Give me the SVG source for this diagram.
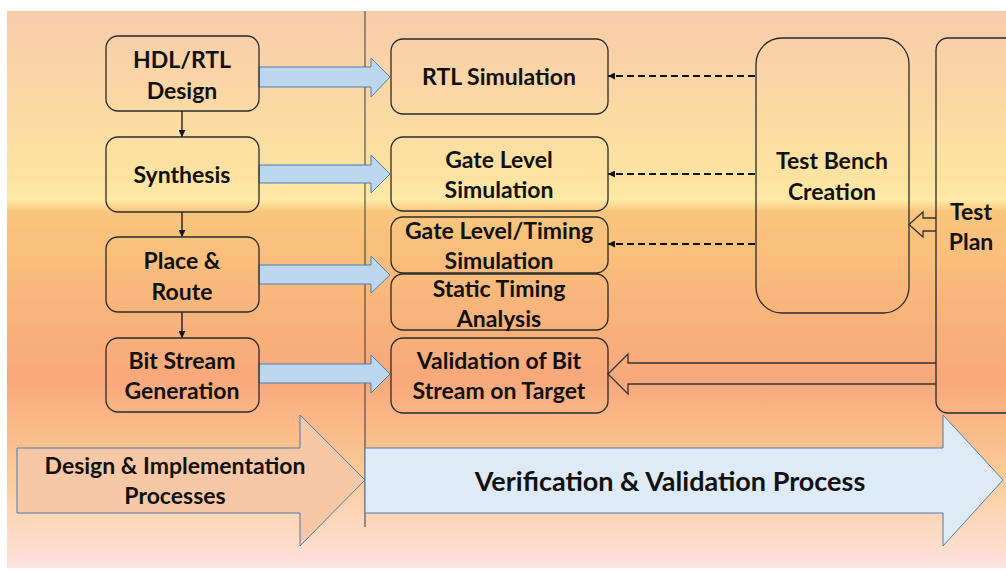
<svg xmlns="http://www.w3.org/2000/svg" width="1006" height="571" viewBox="0 0 1006 571">
<defs>
<linearGradient id="bg" x1="0" y1="11" x2="0" y2="568" gradientUnits="userSpaceOnUse">
<stop offset="0" stop-color="#F8CCAA"/>
<stop offset="0.3" stop-color="#FDE3A0"/>
<stop offset="0.34" stop-color="#FEE9A6"/>
<stop offset="0.36" stop-color="#F9C67C"/>
<stop offset="0.66" stop-color="#F8A87B"/>
<stop offset="0.83" stop-color="#FBCB98"/>
<stop offset="1" stop-color="#FDE3DE"/>
</linearGradient>
<marker id="ah" viewBox="0 0 10 10" refX="10" refY="5" markerWidth="7" markerHeight="7" orient="auto" markerUnits="userSpaceOnUse">
<path d="M0,0 L10,5 L0,10 z" fill="#111"/>
</marker>
<style>
.node{fill:none;stroke:#2b2b2b;stroke-width:1.3}
.t{font-family:Lato,"Open Sans",sans-serif;font-weight:bold;font-size:23px;fill:#111;text-anchor:middle}
.big{font-size:27px}
.blk{fill:#BDD7EE;stroke:#4F7DAE;stroke-width:1}
.dash{stroke:#111;stroke-width:2;stroke-dasharray:7 4;fill:none}
.solid{stroke:#111;stroke-width:1.3;fill:none}
.hollow{fill:none;stroke:#333;stroke-width:1.3}
</style>
</defs>
<rect x="0" y="0" width="1006" height="571" fill="#ffffff"/>
<rect x="7" y="11" width="999" height="557" fill="url(#bg)"/>
<line x1="365" y1="11" x2="365" y2="527" stroke="#3a3a3a" stroke-width="1"/>

<g id="bottom-arrows">
<path d="M17,448 L300,448 L300,415 L365,480 L300,546 L300,513 L17,513 Z" fill="#F8C8A6" stroke="#4F7DAE" stroke-width="1"/>
<path d="M365,448 L943,448 L943,415 L1003,480 L943,546 L943,513 L365,513 Z" fill="#DEEAF6" stroke="#4F7DAE" stroke-width="1"/>
<text class="t" x="175" y="474">Design &amp; Implementation</text>
<text class="t" x="175" y="504">Processes</text>
<text class="t big" x="670" y="491">Verification &amp; Validation Process</text>
</g>

<g id="connectors">
<line class="solid" x1="182" y1="111" x2="182" y2="137" marker-end="url(#ah)"/>
<line class="solid" x1="182" y1="212" x2="182" y2="237" marker-end="url(#ah)"/>
<line class="solid" x1="182" y1="312" x2="182" y2="338" marker-end="url(#ah)"/>
<path class="blk" d="M259,67 L371,67 L371,58 L390,77 L371,97 L371,87 L259,87 Z"/>
<path class="blk" d="M259,165 L371,165 L371,155 L390,174 L371,193 L371,183 L259,183 Z"/>
<path class="blk" d="M259,265 L371,265 L371,256 L390,275 L371,293 L371,284 L259,284 Z"/>
<path class="blk" d="M259,364 L371,364 L371,355 L390,374 L371,393 L371,383 L259,383 Z"/>
<line class="dash" x1="755" y1="76" x2="608" y2="76" marker-end="url(#ah)"/>
<line class="dash" x1="755" y1="174" x2="608" y2="174" marker-end="url(#ah)"/>
<line class="dash" x1="755" y1="244" x2="608" y2="244" marker-end="url(#ah)"/>
<path class="hollow" d="M936,218 L923,218 L923,212 L909,224.5 L923,237 L923,231 L936,231"/>
<path class="hollow" d="M936,363 L628,363 L628,354 L608,374 L628,394 L628,384 L936,384"/>
</g>

<g id="hdl-rtl-design"><rect class="node" x="106" y="36" width="153" height="75" rx="12"/>
<text class="t" x="182" y="68">HDL/RTL</text><text class="t" x="182" y="99">Design</text></g>
<g id="synthesis"><rect class="node" x="106" y="137" width="153" height="75" rx="12"/>
<text class="t" x="182" y="183">Synthesis</text></g>
<g id="place-route"><rect class="node" x="106" y="237" width="153" height="75" rx="12"/>
<text class="t" x="182" y="269">Place &amp;</text><text class="t" x="182" y="300">Route</text></g>
<g id="bit-stream"><rect class="node" x="106" y="338" width="153" height="74" rx="12"/>
<text class="t" x="182" y="369">Bit Stream</text><text class="t" x="182" y="399">Generation</text></g>

<g id="rtl-sim"><rect class="node" x="391" y="39" width="217" height="75" rx="12"/>
<text class="t" x="499" y="85">RTL Simulation</text></g>
<g id="gate-sim"><rect class="node" x="391" y="137" width="217" height="74" rx="12"/>
<text class="t" x="499" y="168">Gate Level</text><text class="t" x="499" y="198">Simulation</text></g>
<g id="gate-timing-sim"><rect class="node" x="391" y="217" width="217" height="56" rx="12"/>
<text class="t" x="499" y="239">Gate Level/Timing</text><text class="t" x="499" y="269">Simulation</text></g>
<g id="sta"><rect class="node" x="391" y="274" width="217" height="56" rx="12"/>
<text class="t" x="499" y="297">Static Timing</text><text class="t" x="499" y="327">Analysis</text></g>
<g id="validation"><rect class="node" x="391" y="338" width="217" height="75" rx="12"/>
<text class="t" x="499" y="369">Validation of Bit</text><text class="t" x="499" y="399">Stream on Target</text></g>

<g id="test-bench"><rect class="node" x="756" y="38" width="153" height="275" rx="26"/>
<text class="t" x="832" y="169">Test Bench</text><text class="t" x="832" y="200">Creation</text></g>
<g id="test-plan"><rect class="node" x="936" y="38" width="90" height="375" rx="12"/>
<text class="t" x="971" y="220">Test</text><text class="t" x="971" y="250">Plan</text></g>
</svg>
